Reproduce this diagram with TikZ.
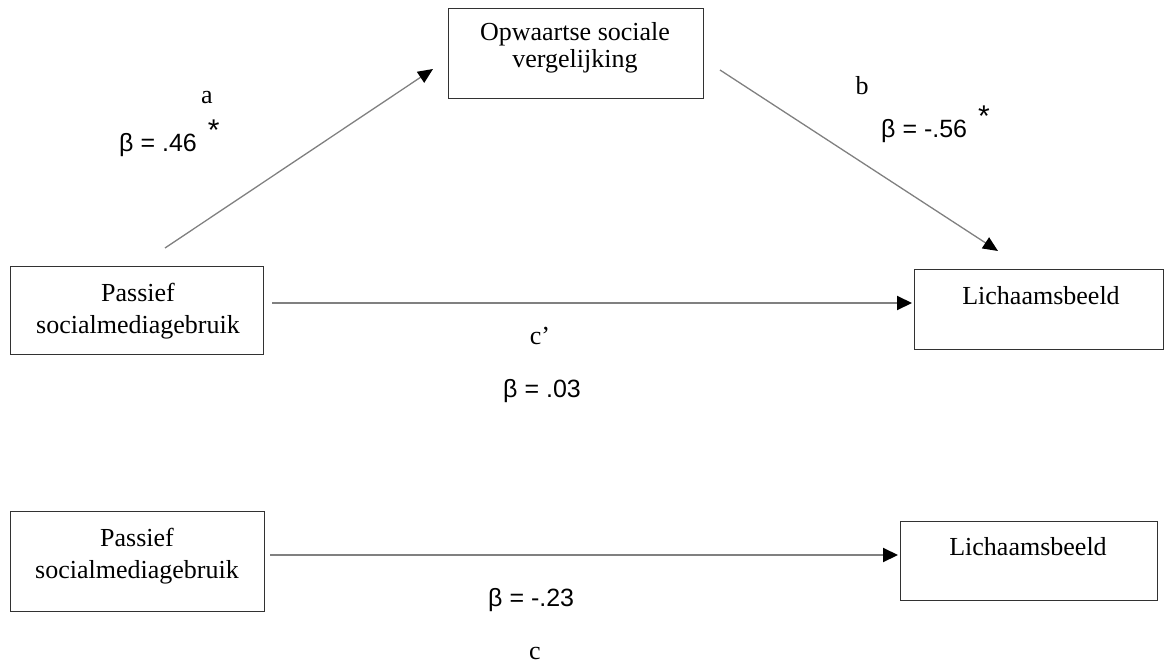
\documentclass[tikz,border=0pt]{standalone}
\usepackage{fontspec}
\setmainfont{Liberation Serif}
\newfontfamily\betafont{Liberation Sans}
\usetikzlibrary{arrows.meta}
\definecolor{linegray}{RGB}{128,128,128}
\definecolor{boxgray}{RGB}{50,50,50}
\tikzset{
  box/.style={draw=boxgray, line width=1pt, rectangle, inner sep=0pt},
  txt/.style={inner sep=0pt, anchor=base, font=\fontsize{26}{30}\selectfont},
  lab/.style={inner sep=0pt, anchor=base, font=\fontsize{26}{30}\selectfont},
  beta/.style={inner sep=0pt, anchor=base west, font=\betafont\fontsize{25}{30}\selectfont},
  diag/.style={draw=linegray, line width=1.3pt, -{Triangle[length=15pt,width=13pt,color=black]}},
  horiz/.style={draw=linegray, line width=2pt, -{Triangle[length=15pt,width=14pt,color=black]}}
}
\newcommand{\sigstar}{\hspace{11pt}\raisebox{11pt}{\fontsize{30}{30}\selectfont *}}
\begin{document}
\begin{tikzpicture}[x=1pt,y=-1pt]
\useasboundingbox (0,0) rectangle (1166,666);
% boxes
\node[box, minimum width=255pt, minimum height=90pt] (op) at (575.5,54) {};
\node[box, minimum width=253pt, minimum height=88pt] (p1) at (136.5,310) {};
\node[box, minimum width=249pt, minimum height=80pt] (l1) at (1038.5,309) {};
\node[box, minimum width=254pt, minimum height=100pt] (p2) at (137,561) {};
\node[box, minimum width=257pt, minimum height=79pt] (l2) at (1028.5,560.5) {};
% box texts
\node[txt] (opt1) at (575,41) {Opwaartse sociale};
\node[txt] (opt2) at (575,68) {vergelijking};
\node[txt] (p1t1) at (138,301) {Passief};
\node[txt] (p1t2) at (138,333) {socialmediagebruik};
\node[txt] (l1t) at (1041,304) {Lichaamsbeeld};
\node[txt] (p2t1) at (137,546) {Passief};
\node[txt] (p2t2) at (137,578) {socialmediagebruik};
\node[txt] (l2t) at (1028,555) {Lichaamsbeeld};
% connector end points
\coordinate (a1) at (165,248);
\coordinate (a2) at (433,69);
\coordinate (b1) at (720,70);
\coordinate (b2) at (998,251);
\coordinate (c1) at (272,303);
\coordinate (c2) at (912,303);
\coordinate (d1) at (270,555);
\coordinate (d2) at (898,555);
% connectors
\draw[diag] (a1) -- (a2);
\draw[diag] (b1) -- (b2);
\draw[horiz] (c1) -- (c2);
\draw[horiz] (d1) -- (d2);
% labels
\node[lab] (la) at (207,104) {a};
\node[beta] (ba) at (119,151) {β = .46\sigstar};
\node[lab] (lb) at (862,95) {b};
\node[beta] (bb) at (881,137) {β = -.56\sigstar};
\node[lab] (lc1) at (540,344) {c’};
\node[beta] (bc1) at (503,397) {β = .03};
\node[beta] (bc) at (488,606) {β = -.23};
\node[lab] (lc) at (535,659) {c};
\end{tikzpicture}
\end{document}
